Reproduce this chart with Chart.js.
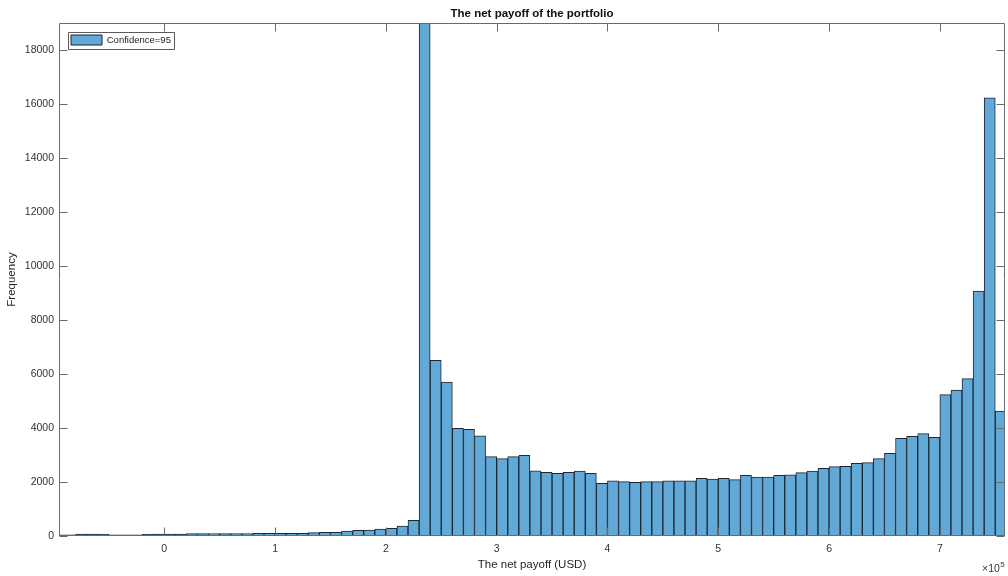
<!DOCTYPE html>
<html>
<head>
<meta charset="utf-8">
<script src="https://cdn.jsdelivr.net/npm/chart.js@4.4.1/dist/chart.umd.min.js"></script>
<style>
  html, body { margin: 0; padding: 0; background: #ffffff; }
  #wrap { width: 1008px; height: 576px; }
</style>
</head>
<body>
<div id="wrap"><canvas id="c" width="1008" height="576"></canvas></div>
<script>
// ---------- data (bin centres in USD, frequencies) ----------
const binCenters = [
  -95000, -85000, -75000, -65000, -55000, -45000, -35000, -25000, -15000, -5000,
  5000, 15000, 25000, 35000, 45000, 55000, 65000, 75000, 85000, 95000,
  105000, 115000, 125000, 135000, 145000, 155000, 165000, 175000, 185000, 195000,
  205000, 215000, 225000, 235000, 245000, 255000, 265000, 275000, 285000, 295000,
  305000, 315000, 325000, 335000, 345000, 355000, 365000, 375000, 385000, 395000,
  405000, 415000, 425000, 435000, 445000, 455000, 465000, 475000, 485000, 495000,
  505000, 515000, 525000, 535000, 545000, 555000, 565000, 575000, 585000, 595000,
  605000, 615000, 625000, 635000, 645000, 655000, 665000, 675000, 685000, 695000,
  705000, 715000, 725000, 735000, 745000, 755000
];
const frequencies = [
  40, 45, 70, 70, 65, 40, 40, 45, 65, 70,
  70, 75, 90, 88, 92, 90, 94, 93, 95, 97,
  96, 100, 102, 123, 136, 140, 185, 210, 215, 259,
  284, 365, 580, 24000, 6510, 5700, 3990, 3950, 3710, 2940,
  2865, 2940, 2990, 2410, 2360, 2320, 2360, 2400, 2320, 1950,
  2040, 2015, 1990, 2015, 2015, 2040, 2040, 2040, 2140, 2110,
  2140, 2090, 2250, 2185, 2185, 2250, 2270, 2350, 2400, 2510,
  2570, 2580, 2690, 2720, 2865, 3065, 3620, 3695, 3790, 3655,
  5235, 5400, 5830, 9070, 16230, 4630
];
const seriesLabel = 'Confidence=95';
const xTickValues = [0, 100000, 200000, 300000, 400000, 500000, 600000, 700000];
const xTickLabels = ['0', '1', '2', '3', '4', '5', '6', '7'];
const yTickValues = [0, 2000, 4000, 6000, 8000, 10000, 12000, 14000, 16000, 18000];
const yTickLabels = ['0', '2000', '4000', '6000', '8000', '10000', '12000', '14000', '16000', '18000'];
const xLimits = [-95000, 758800];
const yLimits = [0, 19000];
const titleText = 'The net payoff of the portfolio';
const xLabel = 'The net payoff (USD)';
const yLabel = 'Frequency';
const exponentBase = '\u00d710';
const exponentPower = '5';

// ---------- styling ----------
const FONT = "'Liberation Sans', Arial, Helvetica, sans-serif";
const AXIS_COLOR = '#6a6a6a';
const TEXT_COLOR = '#333333';
const LEGEND_PAD = 12;
const LEGEND_FONT = 9.5;
const LEGEND_BOX_W = 31;
const LEGEND_BOX_H = 10;

const framePlugin = {
  id: 'matlabFrame',
  beforeDraw(chart) {
    // put the legend block inside the plot area (top-left corner)
    const lg = chart.legend, a = chart.chartArea;
    if (lg) {
      const h = lg.bottom - lg.top, w = lg.right - lg.left;
      lg.top = a.top; lg.bottom = a.top + h;
      lg.left = a.left; lg.right = a.left + w;
    }
  },
  afterDraw(chart) {
    const ctx = chart.ctx;
    const a = chart.chartArea;
    const xs = chart.scales.x, ys = chart.scales.y;
    const L = Math.round(a.left) + 0.5, R = Math.round(a.right) - 0.5;
    const T = Math.round(a.top) + 0.5, B = Math.round(a.bottom) - 0.5;
    ctx.save();
    ctx.strokeStyle = AXIS_COLOR;
    ctx.lineWidth = 1;
    ctx.beginPath();
    ctx.rect(L, T, R - L, B - T);
    ctx.stroke();
    const tl = 8;
    ctx.beginPath();
    xs.ticks.forEach(t => {
      const px = Math.round(xs.getPixelForValue(t.value)) + 0.5;
      ctx.moveTo(px, B); ctx.lineTo(px, B - tl);
      ctx.moveTo(px, T); ctx.lineTo(px, T + tl);
    });
    ys.ticks.forEach(t => {
      const py = Math.round(ys.getPixelForValue(t.value)) + 0.5;
      ctx.moveTo(L, py); ctx.lineTo(L + tl, py);
      ctx.moveTo(R, py); ctx.lineTo(R - tl, py);
    });
    ctx.stroke();

    // legend frame
    const lg = chart.legend;
    if (lg) {
      ctx.font = LEGEND_FONT + 'px ' + FONT;
      const tw = ctx.measureText(seriesLabel).width;
      const bx = lg.left + LEGEND_PAD, by = lg.top + LEGEND_PAD;
      const w = LEGEND_BOX_W + LEGEND_FONT / 2 + tw;
      ctx.strokeStyle = '#5a5a5a';
      ctx.beginPath();
      ctx.rect(Math.round(bx - 3) + 0.5, Math.round(by - 3.5) + 0.5,
               Math.round(w + 6), Math.round(LEGEND_BOX_H + 7));
      ctx.stroke();
    }

    // exponent label
    ctx.fillStyle = TEXT_COLOR;
    ctx.textAlign = 'left';
    ctx.textBaseline = 'alphabetic';
    ctx.font = '10.5px ' + FONT;
    const baseW = ctx.measureText(exponentBase).width;
    const ex = a.right - 23;
    ctx.fillText(exponentBase, ex, a.bottom + 36);
    ctx.font = '8px ' + FONT;
    ctx.fillText(exponentPower, ex + baseW + 0.5, a.bottom + 30.5);
    ctx.restore();
  }
};

const ctx = document.getElementById('c').getContext('2d');
new Chart(ctx, {
  type: 'bar',
  data: {
    datasets: [{
      label: seriesLabel,
      data: binCenters.map((c, i) => ({ x: c, y: frequencies[i] })),
      backgroundColor: '#62a9d8',
      borderColor: '#1c2733',
      borderWidth: 1,
      barPercentage: 1.0,
      categoryPercentage: 1.0
    }]
  },
  options: {
    responsive: false,
    animation: false,
    devicePixelRatio: 1,
    layout: { padding: { left: 0, right: 3, top: 0, bottom: 0 } },
    plugins: {
      tooltip: { enabled: false },
      title: {
        display: true,
        text: titleText,
        fullSize: false,
        color: '#111111',
        font: { family: FONT, size: 11.5, weight: 'bold', lineHeight: 1.2 },
        padding: { top: 7, bottom: 2.2 }
      },
      legend: {
        display: true,
        position: 'chartArea',
        align: 'start',
        labels: {
          boxWidth: LEGEND_BOX_W,
          boxHeight: LEGEND_BOX_H,
          padding: LEGEND_PAD,
          color: '#222222',
          font: { family: FONT, size: LEGEND_FONT }
        }
      }
    },
    scales: {
      x: {
        type: 'linear',
        offset: false,
        min: xLimits[0],
        max: xLimits[1],
        grid: { display: false, drawTicks: false },
        border: { display: false },
        afterBuildTicks(scale) { scale.ticks = xTickValues.map(v => ({ value: v })); },
        afterFit(scale) { scale.height = 40; },
        ticks: {
          autoSkip: false,
          maxRotation: 0,
          padding: 7,
          color: TEXT_COLOR,
          font: { family: FONT, size: 10.5, lineHeight: 1.2 },
          callback: (v, i) => xTickLabels[i]
        },
        title: {
          display: true,
          text: xLabel,
          color: '#262626',
          font: { family: FONT, size: 11.5, lineHeight: 1.2 },
          padding: { top: 0, bottom: 4 }
        }
      },
      y: {
        type: 'linear',
        min: yLimits[0],
        max: yLimits[1],
        grid: { display: false, drawTicks: false },
        border: { display: false },
        afterBuildTicks(scale) { scale.ticks = yTickValues.map(v => ({ value: v })); },
        afterFit(scale) { scale.width = 59; },
        ticks: {
          autoSkip: false,
          padding: 5,
          color: TEXT_COLOR,
          font: { family: FONT, size: 10.5, lineHeight: 1.2 },
          callback: (v, i) => yTickLabels[i]
        },
        title: {
          display: true,
          text: yLabel,
          color: '#262626',
          font: { family: FONT, size: 11.5, lineHeight: 1.2 },
          padding: { top: 5, bottom: 0 }
        }
      }
    }
  },
  plugins: [framePlugin]
});
</script>
</body>
</html>
